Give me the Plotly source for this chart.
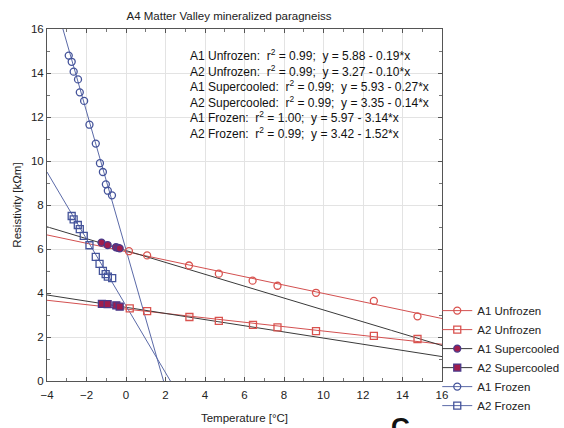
import numpy as np
import plotly.graph_objects as go

# ---- data ----
a1_unfrozen_t = [0.15, 1.07, 3.19, 4.70, 6.41, 7.67, 9.62, 12.55, 14.76]
a1_unfrozen_r = [5.90, 5.71, 5.25, 4.88, 4.56, 4.33, 4.01, 3.64, 2.94]

a2_unfrozen_t = [0.19, 1.07, 3.21, 4.70, 6.43, 7.67, 9.62, 12.55, 14.76]
a2_unfrozen_r = [3.30, 3.18, 2.91, 2.73, 2.55, 2.44, 2.27, 2.05, 1.91]

a1_super_t = [-1.24, -0.93, -0.51, -0.40, -0.32]
a1_super_r = [6.29, 6.18, 6.08, 6.05, 6.03]

a2_super_t = [-1.22, -0.93, -0.49, -0.32]
a2_super_r = [3.51, 3.49, 3.44, 3.38]

a1_frozen_t = [-2.90, -2.75, -2.65, -2.43, -2.34, -2.12, -1.85, -1.53, -1.32,
               -1.17, -1.02, -0.92, -0.71]
a1_frozen_r = [14.79, 14.51, 14.06, 13.71, 13.12, 12.73, 11.65, 10.79, 9.90,
               9.50, 8.94, 8.65, 8.44]

a2_frozen_t = [-2.75, -2.65, -2.44, -2.34, -2.14, -1.85, -1.53, -1.34, -1.17,
               -1.03, -0.92, -0.70]
a2_frozen_r = [7.50, 7.35, 7.09, 6.90, 6.60, 6.17, 5.64, 5.32, 5.01,
               4.86, 4.74, 4.68]

# fit lines (intercept, slope) as printed on the chart
fit_names = ["A1 Unfrozen", "A2 Unfrozen", "A1 Supercooled", "A2 Supercooled",
             "A1 Frozen", "A2 Frozen"]
fit_r2 = ["0.99", "0.99", "0.99", "0.99", "1.00", "0.99"]
fit_a = [5.88, 3.27, 5.93, 3.35, 5.97, 3.42]
fit_b = [0.19, 0.10, 0.27, 0.14, 3.14, 1.52]

x_ticks = [-4, -2, 0, 2, 4, 6, 8, 10, 12, 14, 16]
y_ticks = [0, 2, 4, 6, 8, 10, 12, 14, 16]

RED = "#d9534f"
LRED = "#d35050"
BLUE = "#44539a"
LBLUE = "#5b6aa8"
DARK = "#3a3a3a"
SUPER = "#a01d4c"

fig = go.Figure()

# regression lines
xs = np.linspace(-4, 16, 401)
line_cols = [LRED, LRED, DARK, DARK, LBLUE, LBLUE]
for a, b, c in zip(fit_a, fit_b, line_cols):
    ys = a - b * xs
    fig.add_trace(go.Scatter(x=xs, y=ys, mode="lines",
                             line=dict(color=c, width=1),
                             showlegend=False, hoverinfo="skip"))

series = [
    ("A1 Unfrozen", a1_unfrozen_t, a1_unfrozen_r, "circle-open", RED, RED, LRED),
    ("A2 Unfrozen", a2_unfrozen_t, a2_unfrozen_r, "square-open", RED, RED, LRED),
    ("A1 Supercooled", a1_super_t, a1_super_r, "circle", SUPER, "#4a3a8a", DARK),
    ("A2 Supercooled", a2_super_t, a2_super_r, "square", SUPER, "#4a3a8a", DARK),
    ("A1 Frozen", a1_frozen_t, a1_frozen_r, "circle-open", BLUE, BLUE, LBLUE),
    ("A2 Frozen", a2_frozen_t, a2_frozen_r, "square-open", BLUE, BLUE, LBLUE),
]
for name, t, r, sym, fc, lc, lnc in series:
    mk = dict(symbol=sym, size=7, color=fc, line=dict(color=lc, width=1.3))
    fig.add_trace(go.Scatter(x=t, y=r, mode="markers", name=name,
                             marker=mk, showlegend=False))
    # legend entry: marker with line sample, like the reference key
    fig.add_trace(go.Scatter(x=[None], y=[None], mode="lines+markers",
                             name=name, marker=mk,
                             line=dict(color=lnc, width=1)))

txt_lines = []
for n, r2, a, b in zip(fit_names, fit_r2, fit_a, fit_b):
    txt_lines.append(f"{n}:\u00a0 r<sup>2</sup> = {r2};\u00a0 y = {a:.2f} - {b:.2f}*x")
fig.add_annotation(
    text="<br>".join(txt_lines), xref="paper", yref="paper",
    x=0.358, y=0.955, xanchor="left", yanchor="top", align="left",
    showarrow=False, font=dict(size=12, color="#111"),
)

fig.add_annotation(text="<b>C</b>", xref="paper", yref="paper",
                   x=0.895, y=-0.082, xanchor="center", yanchor="top",
                   showarrow=False, font=dict(size=26, color="#111"))

fig.update_layout(
    width=564, height=428,
    margin=dict(l=47, r=122, t=29, b=47, autoexpand=False),
    paper_bgcolor="white", plot_bgcolor="white",
    font=dict(family="Liberation Sans, Arial, sans-serif", size=11, color="#222"),
    title=dict(text="A4 Matter Valley mineralized paragneiss",
               x=0.406, xanchor="center", y=0.962, yanchor="middle",
               font=dict(size=11.5, color="#222")),
    legend=dict(x=0.988, y=0.065, xanchor="left", yanchor="middle",
                font=dict(size=11.5, color="#222"), bgcolor="rgba(0,0,0,0)",
                tracegroupgap=0, itemwidth=30),
)
fig.update_xaxes(
    range=[-4, 16], tickvals=x_ticks, showgrid=True, gridcolor="#e3e3e3",
    gridwidth=1, zeroline=False, showline=True, linecolor="#555",
    linewidth=1, mirror="ticks", ticks="inside", ticklen=4, tickcolor="#555",
    minor=dict(dtick=1, ticks="inside", ticklen=3, tickcolor="#777",
               showgrid=False),
    ticklabelstandoff=3,
    title=dict(text="Temperature [°C]", font=dict(size=11.5), standoff=14),
    tickfont=dict(size=11.5),
)
fig.update_yaxes(
    range=[0, 16], tickvals=y_ticks, showgrid=True, gridcolor="#e3e3e3",
    gridwidth=1, zeroline=False, showline=True, linecolor="#555",
    linewidth=1, mirror="ticks", ticks="inside", ticklen=4, tickcolor="#555",
    minor=dict(dtick=1, ticks="inside", ticklen=3, tickcolor="#777",
               showgrid=False),
    title=dict(text="Resistivity [kΩm]", font=dict(size=11.5), standoff=6),
    tickfont=dict(size=11.5),
)

fig.write_html("out.html")
